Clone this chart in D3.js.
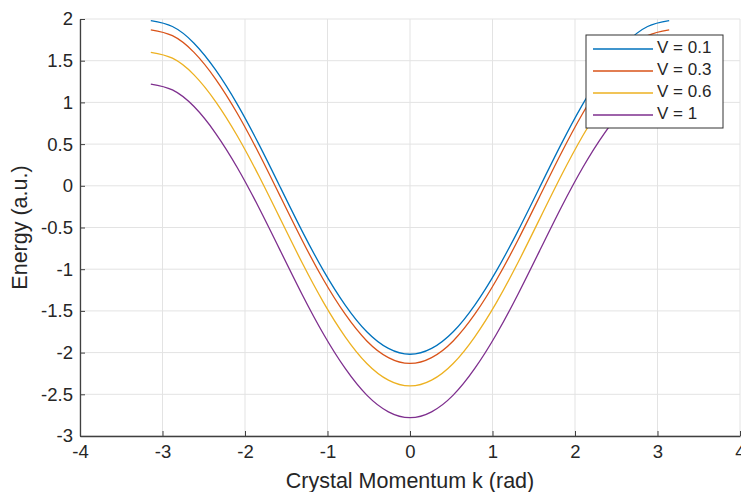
<!DOCTYPE html>
<html>
<head>
<meta charset="utf-8">
<script src="https://cdn.jsdelivr.net/npm/d3@7"></script>
<style>
  body { margin: 0; background: #fff; }
  svg { display: block; }
</style>
</head>
<body>
<script>
'use strict';
// k samples (rad), step pi/12
const kVals = [-3.1416, -2.8798, -2.618, -2.3562, -2.0944, -1.8326, -1.5708, -1.309, -1.0472, -0.7854, -0.5236, -0.2618,
  0, 0.2618, 0.5236, 0.7854, 1.0472, 1.309, 1.5708, 1.8326, 2.0944, 2.3562, 2.618, 2.8798, 3.1416];

const seriesNames = ['V = 0.1', 'V = 0.3', 'V = 0.6', 'V = 1'];
const e01 = [1.98, 1.91, 1.71, 1.39, 0.98, 0.50, -0.02, -0.54, -1.02, -1.43, -1.75, -1.95,
  -2.02, -1.95, -1.75, -1.43, -1.02, -0.54, -0.02, 0.50, 0.98, 1.39, 1.71, 1.91, 1.98];
const e03 = [1.87, 1.80, 1.60, 1.28, 0.87, 0.39, -0.13, -0.65, -1.13, -1.54, -1.86, -2.06,
  -2.13, -2.06, -1.86, -1.54, -1.13, -0.65, -0.13, 0.39, 0.87, 1.28, 1.60, 1.80, 1.87];
const e06 = [1.60, 1.53, 1.33, 1.01, 0.60, 0.12, -0.40, -0.92, -1.40, -1.81, -2.13, -2.33,
  -2.40, -2.33, -2.13, -1.81, -1.40, -0.92, -0.40, 0.12, 0.60, 1.01, 1.33, 1.53, 1.60];
const e10 = [1.22, 1.15, 0.95, 0.63, 0.22, -0.26, -0.78, -1.30, -1.78, -2.19, -2.51, -2.71,
  -2.78, -2.71, -2.51, -2.19, -1.78, -1.30, -0.78, -0.26, 0.22, 0.63, 0.95, 1.15, 1.22];
const seriesVals = [e01, e03, e06, e10];

const xTicks = [-4, -3, -2, -1, 0, 1, 2, 3, 4];
const yTicks = [-3, -2.5, -2, -1.5, -1, -0.5, 0, 0.5, 1, 1.5, 2];

const W = 741, H = 492;
const FONT = '"Liberation Sans", Arial, Helvetica, sans-serif';
const COLORS = ['#0072BD', '#D95319', '#EDB120', '#7E2F8E'];
const AXIS = '#404040';
const GRID = '#e3e3e3';

const m = { left: 80, right: 1, top: 19, bottom: 56 };

const svg = d3.select('body').append('svg')
  .attr('width', W).attr('height', H)
  .attr('viewBox', `0 0 ${W} ${H}`);
svg.append('rect').attr('width', W).attr('height', H).attr('fill', '#fff');

const x = d3.scaleLinear().domain([-4, 4]).range([m.left, W - m.right]);
const y = d3.scaleLinear().domain([-3, 2]).range([H - m.bottom, m.top]);

// grid
const grid = svg.append('g');
grid.selectAll('line.gx').data(xTicks).join('line')
  .attr('x1', d => x(d)).attr('x2', d => x(d))
  .attr('y1', y(-3)).attr('y2', y(2))
  .attr('stroke', GRID).attr('stroke-width', 1);
grid.selectAll('line.gy').data(yTicks).join('line')
  .attr('y1', d => y(d)).attr('y2', d => y(d))
  .attr('x1', x(-4)).attr('x2', x(4))
  .attr('stroke', GRID).attr('stroke-width', 1);

// curves
const line = d3.line()
  .x(d => x(d[0])).y(d => y(d[1]))
  .curve(d3.curveNatural);
seriesVals.forEach((vals, i) => {
  svg.append('path')
    .datum(kVals.map((k, j) => [k, vals[j]]))
    .attr('d', line)
    .attr('fill', 'none')
    .attr('stroke', COLORS[i])
    .attr('stroke-width', 1.3);
});

// axes (ticks inward)
const fmt = d => String(d);
const xAxis = d3.axisBottom(x).tickValues(xTicks).tickSizeInner(-5).tickSizeOuter(0).tickPadding(9).tickFormat(fmt);
const gx = svg.append('g').attr('transform', `translate(0,${y(-3)})`).call(xAxis);
const yAxis = d3.axisLeft(y).tickValues(yTicks).tickSizeInner(-5).tickSizeOuter(0).tickPadding(7).tickFormat(fmt);
const gy = svg.append('g').attr('transform', `translate(${x(-4)},0)`).call(yAxis);
[gx, gy].forEach(g => {
  g.select('.domain').attr('stroke', AXIS).attr('stroke-width', 1.3);
  g.selectAll('.tick line').attr('stroke', AXIS).attr('stroke-width', 1);
  g.selectAll('.tick text').attr('fill', '#262626').attr('font-family', FONT).attr('font-size', 18.5);
});
gx.selectAll('.tick text').attr('dy', '0.72em');

// axis labels
svg.append('text')
  .attr('x', x(0)).attr('y', 482)
  .attr('text-anchor', 'middle').attr('dominant-baseline', 'middle')
  .attr('font-family', FONT).attr('font-size', 21.5).attr('fill', '#262626')
  .text('Crystal Momentum k (rad)');
svg.append('text')
  .attr('transform', `translate(21,${(y(-3) + y(2)) / 2}) rotate(-90)`)
  .attr('text-anchor', 'middle').attr('dominant-baseline', 'middle')
  .attr('font-family', FONT).attr('font-size', 21.5).attr('fill', '#262626')
  .text('Energy (a.u.)');

// legend
const lg = svg.append('g').attr('transform', 'translate(586,35)');
lg.append('rect').attr('width', 137).attr('height', 93)
  .attr('fill', '#fff').attr('stroke', '#333').attr('stroke-width', 1);
seriesNames.forEach((name, i) => {
  const ry = 14 + i * 22;
  lg.append('line').attr('x1', 7).attr('x2', 67).attr('y1', ry).attr('y2', ry)
    .attr('stroke', COLORS[i]).attr('stroke-width', 1.3);
  lg.append('text').attr('x', 71).attr('y', ry)
    .attr('dominant-baseline', 'middle')
    .attr('font-family', FONT).attr('font-size', 17).attr('fill', '#262626')
    .text(name);
});
</script>
</body>
</html>
